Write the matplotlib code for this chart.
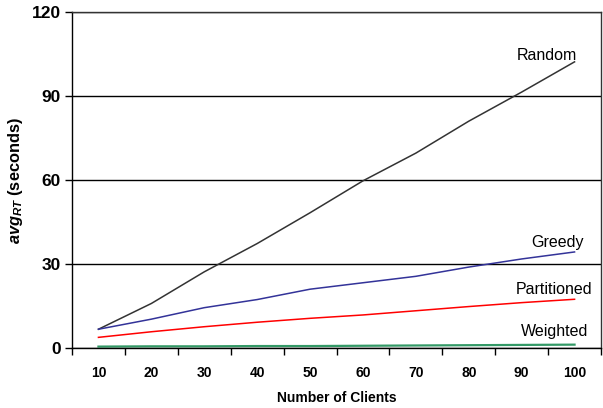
import matplotlib
matplotlib.use("Agg")
import matplotlib.pyplot as plt
import numpy as np

plt.rcParams['font.family'] = ['Liberation Sans', 'DejaVu Sans']
plt.rcParams['mathtext.fontset'] = 'custom'
plt.rcParams['mathtext.rm'] = 'Liberation Sans:bold'
plt.rcParams['mathtext.it'] = 'Liberation Sans:italic:bold'
plt.rcParams['mathtext.bf'] = 'Liberation Sans:bold'

clients = [10, 20, 30, 40, 50, 60, 70, 80, 90, 100]
random_rt = [6.7, 15.9, 27.2, 37.3, 48.3, 59.7, 69.6, 81.0, 91.4, 102.2]
greedy_rt = [6.7, 10.3, 14.4, 17.3, 21.0, 23.3, 25.6, 28.9, 31.8, 34.3]
partitioned_rt = [3.8, 5.8, 7.6, 9.2, 10.6, 11.8, 13.3, 14.8, 16.2, 17.4]
weighted_rt = [0.5, 0.6, 0.6, 0.7, 0.7, 0.8, 0.9, 1.0, 1.1, 1.2]

fig = plt.figure(figsize=(6.03, 4.08), dpi=100)
ax = fig.add_axes([72/603, 60/408, 529/603, 336/408])

x = np.arange(len(clients))
ax.plot(x, random_rt, color='#333333', lw=1.1)
ax.plot(x, greedy_rt, color='#333399', lw=1.1)
ax.plot(x, partitioned_rt, color='#ff0000', lw=1.1)
ax.plot(x, weighted_rt, color='#339966', lw=1.6)

# series labels
ax.text(8.47, 104.5, 'Random', fontsize=11.5, ha='center', va='center')
ax.text(8.67, 37.5, 'Greedy', fontsize=11.5, ha='center', va='center')
ax.text(8.62, 20.8, 'Partitioned', fontsize=11.5, ha='center', va='center')
ax.text(8.62, 5.8, 'Weighted', fontsize=11.5, ha='center', va='center')

ax.set_xlim(-0.5, 9.5)
ax.set_ylim(0, 120)
ax.set_yticks([0, 30, 60, 90, 120])
ax.yaxis.grid(True, color='black', lw=1)
ax.set_axisbelow(True)

ax.set_xticks(np.arange(-0.5, 10, 1))
ax.set_xticklabels([])
ax.set_xticks(x, minor=True)
ax.set_xticklabels([str(c) for c in clients], minor=True, fontsize=10, fontweight='bold')
ax.tick_params(axis='x', which='major', length=5, direction='out', width=1)
ax.tick_params(axis='x', which='minor', length=0, pad=13)
ax.tick_params(axis='y', length=5, direction='out', width=1, labelsize=12.5, pad=3)
for t in ax.get_yticklabels():
    t.set_fontweight('bold')

for s in ax.spines.values():
    s.set_linewidth(1)
ax.spines['top'].set_color('#333333')
ax.spines['right'].set_color('#333333')

ax.set_xlabel('Number of Clients', fontsize=10, fontweight='bold', labelpad=8)
ax.set_ylabel(r'$\mathit{avg}_{\mathit{RT}}$ (seconds)', fontsize=11.8, fontweight='bold', labelpad=5)

fig.savefig('out.png', dpi=100)
